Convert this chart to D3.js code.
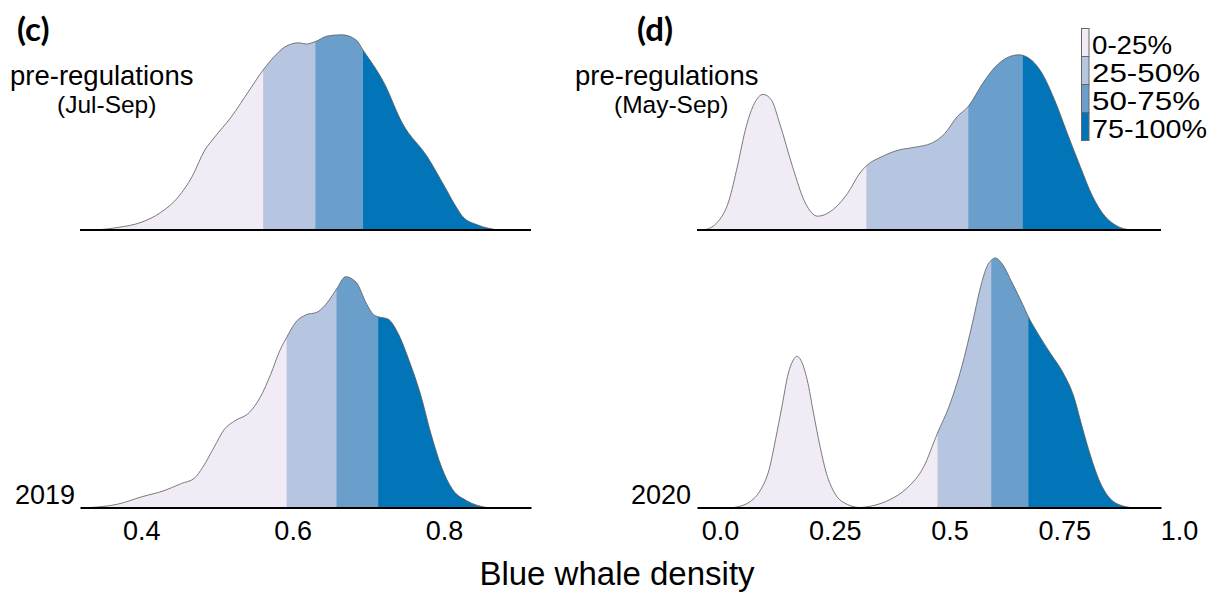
<!DOCTYPE html>
<html>
<head>
<meta charset="utf-8">
<script src="https://cdn.jsdelivr.net/npm/d3@7"></script>
<style>
  html, body { margin: 0; padding: 0; background: #fff; }
  svg { display: block; }
  text { font-family: "Liberation Sans", Arial, sans-serif; fill: #000; }
</style>
</head>
<body>
<svg id="chart" width="1223" height="592"></svg>
<script>
// ---- Density estimates (x = blue whale density, d = kernel density) ----
// Panel (c): pre-regulations (Jul-Sep) vs 2019
const cPreX = [0.340, 0.368, 0.401, 0.425, 0.449, 0.467, 0.484, 0.496, 0.519, 0.543, 0.561, 0.580, 0.590, 0.608, 0.618, 0.630, 0.646, 0.665, 0.684, 0.693, 0.721, 0.745, 0.778, 0.801, 0.816, 0.825, 0.844, 0.872];
const cPreD = [0, 0.06, 0.20, 0.43, 0.83, 1.33, 2.00, 2.30, 2.83, 3.50, 4.00, 4.42, 4.58, 4.68, 4.65, 4.71, 4.85, 4.88, 4.75, 4.50, 3.67, 2.67, 1.83, 1.08, 0.58, 0.33, 0.13, 0];
const c2019X = [0.333, 0.368, 0.401, 0.430, 0.453, 0.470, 0.481, 0.496, 0.510, 0.524, 0.543, 0.557, 0.571, 0.583, 0.592, 0.604, 0.618, 0.632, 0.644, 0.658, 0.670, 0.684, 0.698, 0.707, 0.713, 0.726, 0.740, 0.754, 0.769, 0.783, 0.797, 0.811, 0.830, 0.856];
const c2019D = [0, 0.08, 0.27, 0.42, 0.60, 0.73, 1.00, 1.50, 1.96, 2.17, 2.38, 2.75, 3.33, 3.92, 4.25, 4.63, 4.82, 4.88, 5.08, 5.46, 5.77, 5.63, 5.08, 4.82, 4.77, 4.71, 4.33, 3.67, 2.83, 1.83, 1.00, 0.46, 0.17, 0];

// Panel (d): pre-regulations (May-Sep) vs 2020
const dPreX = [-0.035, -0.008, 0.020, 0.038, 0.057, 0.075, 0.094, 0.112, 0.130, 0.158, 0.186, 0.213, 0.241, 0.278, 0.305, 0.319, 0.352, 0.388, 0.425, 0.462, 0.490, 0.517, 0.541, 0.573, 0.600, 0.628, 0.651, 0.674, 0.702, 0.729, 0.757, 0.785, 0.812, 0.840, 0.867, 0.895];
const dPreD = [0, 0.11, 0.50, 1.06, 1.72, 2.11, 2.26, 2.17, 1.78, 1.06, 0.45, 0.23, 0.31, 0.61, 0.95, 1.07, 1.22, 1.33, 1.38, 1.45, 1.61, 1.89, 2.06, 2.45, 2.72, 2.88, 2.92, 2.86, 2.61, 2.17, 1.61, 1.06, 0.56, 0.22, 0.06, 0];
const d2020X = [0.030, 0.043, 0.066, 0.089, 0.107, 0.121, 0.135, 0.149, 0.160, 0.167, 0.176, 0.190, 0.204, 0.218, 0.232, 0.250, 0.278, 0.305, 0.333, 0.370, 0.407, 0.444, 0.474, 0.499, 0.527, 0.550, 0.568, 0.582, 0.591, 0.600, 0.614, 0.637, 0.660, 0.672, 0.692, 0.720, 0.748, 0.771, 0.789, 0.808, 0.826, 0.849, 0.881, 0.895];
const d2020D = [0, 0.02, 0.10, 0.30, 0.63, 1.13, 1.68, 2.24, 2.46, 2.52, 2.46, 2.13, 1.57, 1.02, 0.57, 0.24, 0.05, 0, 0.03, 0.13, 0.32, 0.68, 1.24, 1.68, 2.35, 3.07, 3.68, 4.02, 4.12, 4.16, 4.07, 3.74, 3.38, 3.18, 2.91, 2.57, 2.24, 1.85, 1.35, 0.85, 0.46, 0.16, 0.02, 0];

// Quartile cut points (25%, 50%, 75%) of each distribution
const cPreQ = [0.561, 0.630, 0.693];
const c2019Q = [0.592, 0.658, 0.713];
const dPreQ = [0.319, 0.541, 0.660];
const d2020Q = [0.474, 0.591, 0.672];

// Axis ticks and labels
const cTicks = [0.4, 0.6, 0.8];
const cTickLabels = ["0.4", "0.6", "0.8"];
const dTicks = [0, 0.25, 0.5, 0.75, 1.0];
const dTickLabels = ["0.0", "0.25", "0.5", "0.75", "1.0"];

// Quartile legend
const quartileLabels = ["0-25%", "25-50%", "50-75%", "75-100%"];
const quartileColors = ["#f0ebf4", "#b7c6e0", "#6a9ecb", "#0175b7"];

// ---- Drawing ----
const svg = d3.select("#chart");
const rowBaselines = [230, 507.5];

const panels = [
  {
    id: "c", tag: "(c)", tagX: 17,
    xDomain: [0.319, 0.915], xRange: [80, 531],
    pxPerUnit: 40,
    ticks: cTicks, tickLabels: cTickLabels,
    periodLabel: "(Jul-Sep)", preX: 10, periodX: 57,
    yearLabel: "2019", yearRight: 75,
    ridges: [
      { xs: cPreX, ds: cPreD, q: cPreQ },
      { xs: c2019X, ds: c2019D, q: c2019Q }
    ]
  },
  {
    id: "d", tag: "(d)", tagX: 637,
    xDomain: [-0.05, 0.961], xRange: [697, 1161],
    pxPerUnit: 60,
    ticks: dTicks, tickLabels: dTickLabels,
    periodLabel: "(May-Sep)", preX: 575, periodX: 614,
    yearLabel: "2020", yearRight: 691,
    ridges: [
      { xs: dPreX, ds: dPreD, q: dPreQ },
      { xs: d2020X, ds: d2020D, q: d2020Q }
    ]
  }
];

const defs = svg.append("defs");
let clipId = 0;

panels.forEach(p => {
  const x = d3.scaleLinear().domain(p.xDomain).range(p.xRange);
  const h = d3.scaleLinear().domain([0, 1]).range([0, p.pxPerUnit]);
  const g = svg.append("g").attr("class", "panel-" + p.id);

  p.ridges.forEach((r, i) => {
    const base = rowBaselines[i];
    const pts = r.xs.map((v, k) => [v, r.ds[k]]);
    const area = d3.area()
      .x(d => x(d[0]))
      .y0(base)
      .y1(d => base - h(d[1]))
      .curve(d3.curveMonotoneX);
    const line = d3.line()
      .x(d => x(d[0]))
      .y(d => base - h(d[1]))
      .curve(d3.curveMonotoneX);

    // fill each quartile band by clipping the same density area
    const bounds = [r.xs[0], ...r.q, r.xs[r.xs.length - 1]];
    for (let s = 0; s < 4; s++) {
      const cid = "clip" + (clipId++);
      defs.append("clipPath").attr("id", cid)
        .append("rect")
        .attr("x", x(bounds[s]))
        .attr("y", 0)
        .attr("width", Math.max(0, x(bounds[s + 1]) - x(bounds[s])) + (s < 3 ? 0.5 : 2))
        .attr("height", 592);
      g.append("path")
        .datum(pts)
        .attr("d", area)
        .attr("fill", quartileColors[s])
        .attr("clip-path", `url(#${cid})`);
    }
    g.append("path")
      .datum(pts)
      .attr("d", line)
      .attr("fill", "none")
      .attr("stroke", "#5a5a5a")
      .attr("stroke-width", 0.8);

    // baseline of the upper ridge
    if (i === 0) {
      g.append("line")
        .attr("x1", p.xRange[0]).attr("x2", p.xRange[1])
        .attr("y1", base).attr("y2", base)
        .attr("stroke", "#000").attr("stroke-width", 2);
    }
  });

  // x axis under the lower ridge
  const axis = d3.axisBottom(x)
    .tickValues(p.ticks)
    .tickFormat((d, k) => p.tickLabels[k])
    .tickSize(0)
    .tickSizeOuter(0)
    .tickPadding(8);
  const ax = g.append("g")
    .attr("transform", `translate(0,${rowBaselines[1]})`)
    .call(axis);
  ax.select(".domain").attr("stroke", "#000").attr("stroke-width", 2);
  ax.selectAll(".tick text")
    .attr("dy", null)
    .attr("y", 32.5)
    .style("font-family", '"Liberation Sans", Arial, sans-serif')
    .style("font-size", "27px")
    .attr("fill", "#000");

  // panel tag and ridge labels
  g.append("text")
    .attr("x", p.tagX).attr("y", 41)
    .style("font-family", "Lato, 'Open Sans', sans-serif")
    .style("font-weight", "bold")
    .style("font-size", "33px")
    .text(p.tag);
  g.append("text")
    .attr("x", p.preX).attr("y", 85)
    .style("font-size", "27.5px")
    .text("pre-regulations");
  g.append("text")
    .attr("x", p.periodX).attr("y", 113)
    .style("font-size", "24.5px")
    .text(p.periodLabel);
  g.append("text")
    .attr("x", p.yearRight).attr("y", 503.5)
    .attr("text-anchor", "end")
    .style("font-size", "27px")
    .text(p.yearLabel);
});

// quartile legend
const legendWidths = [80, 108, 108, 115];
const leg = svg.append("g").attr("class", "legend");
quartileLabels.forEach((lab, i) => {
  leg.append("rect")
    .attr("x", 1081.5).attr("y", 28.5 + i * 28)
    .attr("width", 7.5).attr("height", 28)
    .attr("fill", quartileColors[i])
    .attr("stroke", "#666").attr("stroke-width", 1);
  leg.append("text")
    .attr("x", 1092).attr("y", 54 + i * 28)
    .attr("textLength", legendWidths[i])
    .attr("lengthAdjust", "spacingAndGlyphs")
    .style("font-size", "25px")
    .text(lab);
});

// shared x-axis title
svg.append("text")
  .attr("x", 617).attr("y", 584.5)
  .attr("text-anchor", "middle")
  .style("font-size", "33px")
  .text("Blue whale density");
</script>
</body>
</html>
